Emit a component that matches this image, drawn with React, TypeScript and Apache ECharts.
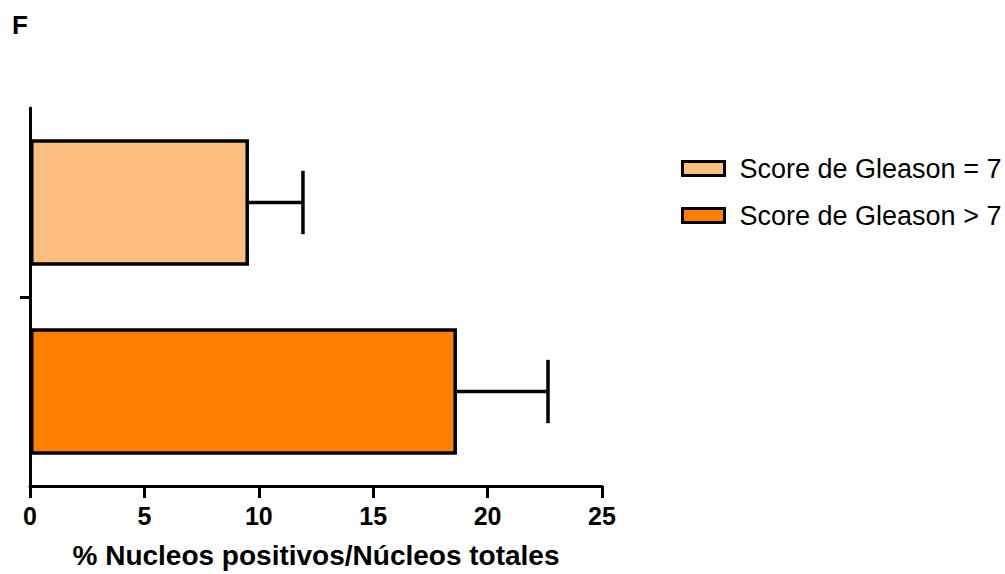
import React, { useEffect, useRef } from "react";
import * as echarts from "echarts";

const categories = ["Score de Gleason > 7", "Score de Gleason = 7"];
const seriesNames = ["Score de Gleason = 7", "Score de Gleason > 7"];
const meanEq7 = [null, 9.57];
const meanGt7 = [18.66, null];
const errors = [3.98, 2.36];
const means = [18.66, 9.57];
const xTicks = [0, 5, 10, 15, 20, 25];

export default function App() {
  const ref = useRef<HTMLDivElement>(null);
  useEffect(() => {
    if (!ref.current) return;
    const chart = echarts.init(ref.current, null, { renderer: "svg" });
    const font = "'Liberation Sans', Arial, sans-serif";
    const errData = means.map((m, i) => [m, i, errors[i]]);
    chart.setOption({
      animation: false,
      backgroundColor: "#ffffff",
      title: {
        text: "F",
        left: 7,
        top: 7,
        textStyle: { fontFamily: font, fontWeight: "bold", fontSize: 26, color: "#000" },
      },
      legend: {
        data: seriesNames,
        orient: "vertical",
        left: 676,
        top: 150,
        icon: "rect",
        itemWidth: 42,
        itemHeight: 14,
        itemGap: 20,
        textStyle: { fontFamily: font, fontSize: 27, color: "#000", padding: [0, 0, 0, 10] },
        itemStyle: { borderColor: "#000", borderWidth: 3 },
      },
      grid: { left: 30, right: 403, top: 108, bottom: 86, containLabel: false },
      xAxis: {
        type: "value",
        min: xTicks[0],
        max: xTicks[xTicks.length - 1],
        interval: 5,
        name: "% Nucleos positivos/Núcleos totales",
        nameLocation: "middle",
        nameGap: 55,
        nameTextStyle: { fontFamily: font, fontWeight: "bold", fontSize: 28, color: "#000" },
        axisLine: { show: true, lineStyle: { color: "#000", width: 3 } },
        axisTick: { show: true, length: 12, lineStyle: { color: "#000", width: 3 } },
        axisLabel: { fontFamily: font, fontWeight: "bold", fontSize: 25, color: "#000", margin: 17 },
        splitLine: { show: false },
      },
      yAxis: [
        {
          type: "category",
          data: categories,
          axisLine: { show: true, lineStyle: { color: "#000", width: 3 } },
          axisTick: { show: false },
          axisLabel: { show: false },
        },
        {
          type: "value",
          position: "left",
          min: 0,
          max: 2,
          axisLine: { show: false },
          axisLabel: { show: false },
          splitLine: { show: false },
          axisTick: { show: true, length: 10, customValues: [1], lineStyle: { color: "#000", width: 3 } },
        },
      ],
      series: [
        {
          name: seriesNames[0],
          type: "bar",
          data: meanEq7.map((v) => (v == null ? "-" : v)),
          barWidth: "67%",
          barGap: "-100%",
          itemStyle: { color: "#FDBF80", borderColor: "#000", borderWidth: 3.5 },
        },
        {
          name: seriesNames[1],
          type: "bar",
          data: meanGt7.map((v) => (v == null ? "-" : v)),
          barWidth: "67%",
          barGap: "-100%",
          itemStyle: { color: "#FF8000", borderColor: "#000", borderWidth: 3.5 },
        },
        {
          type: "custom",
          data: errData,
          z: 3,
          renderItem: (params: any, api: any) => {
            const m = api.value(0);
            const c = api.value(1);
            const e = api.value(2);
            const start = api.coord([m, c]);
            const end = api.coord([m + e, c]);
            const band = api.size([0, 1])[1];
            const half = band * 0.335 / 2;
            const style = { stroke: "#000", lineWidth: 3.5 };
            return {
              type: "group",
              children: [
                { type: "line", shape: { x1: start[0], y1: start[1], x2: end[0], y2: end[1] }, style },
                { type: "line", shape: { x1: end[0], y1: end[1] - half, x2: end[0], y2: end[1] + half }, style },
              ],
            };
          },
        },
      ],
    });
    return () => chart.dispose();
  }, []);
  return (
    <div
      ref={ref}
      style={{ position: "fixed", left: 0, top: 0, width: 1005, height: 574 }}
    />
  );
}
